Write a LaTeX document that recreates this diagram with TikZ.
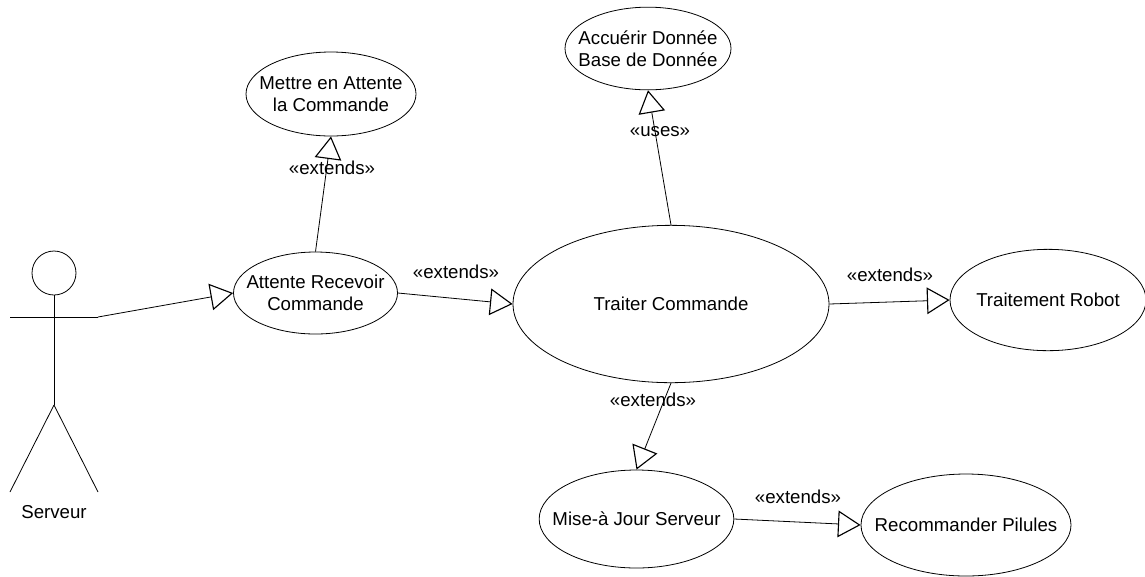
\documentclass[tikz,border=0pt]{standalone}
\usepackage{fontspec}
\setmainfont{Liberation Sans}
\usetikzlibrary{shapes.geometric,arrows.meta}
\tikzset{
    usecase/.style={draw,ellipse,inner sep=0pt},
    casetext/.style={align=center,inner sep=0pt,font=\fontsize{14}{16.5}\selectfont},
    stereo/.style={inner sep=0pt,font=\fontsize{14}{16}\selectfont},
    assoc/.style={-{Triangle[open,fill=white,length=17pt,width=20pt,line width=0.85pt]},line width=0.6pt},
}
\begin{document}
\begin{tikzpicture}[x=0.75pt,y=-0.75pt,line width=0.6pt]
            \useasboundingbox (0,0) rectangle (1145,576);
            \node[usecase,minimum width=127.5pt,minimum height=63pt,label={[casetext]center:Mettre en Attente\\la Commande}] (mettre) at (331,94) {};
            \node[usecase,minimum width=123pt,minimum height=61.5pt,label={[casetext]center:Attente Recevoir\\Commande}] (attente) at (315.5,293) {};
            \node[usecase,minimum width=124.5pt,minimum height=62pt,label={[casetext]center:Accuérir Donnée\\Base de Donnée}] (accuerir) at (648,48.5) {};
            \node[usecase,minimum width=237pt,minimum height=118pt,label={[casetext]center:Traiter Commande}] (traiter) at (671,304) {};
            \node[usecase,minimum width=147pt,minimum height=76pt,label={[casetext]center:Traitement Robot}] (robot) at (1048,300) {};
            \node[usecase,minimum width=146pt,minimum height=73.5pt,label={[casetext]center:Mise-à Jour Serveur}] (miseajour) at (636.5,519) {};
            \node[usecase,minimum width=157.5pt,minimum height=76.5pt,label={[casetext]center:Recommander Pilules}] (recommander) at (966,525) {};
            % actor
            \node[draw,circle,inner sep=0pt,minimum size=33pt] (tete) at (54,273) {};
            \coordinate (main) at (98,317);
            \coordinate (hanche) at (54,405);
            \draw (tete.south) -- (hanche);
            \draw (10,317) -- (main);
            \draw (hanche) -- (10,492);
            \draw (hanche) -- (98,492);
            \node[stereo] (serveur) at (54,512) {Serveur};
            % links
            \draw[assoc] (main) -- (attente.west);
            \draw[assoc] (attente.north) -- (mettre.south);
            \draw[assoc] (attente.east) -- (traiter.west);
            \draw[assoc] (traiter.north) -- (accuerir.south);
            \draw[assoc] (traiter.east) -- (robot.west);
            \draw[assoc] (traiter.south) -- (miseajour.north);
            \draw[assoc] (miseajour.east) -- (recommander.west);
            \node[stereo] (ext1) at (332,168) {«extends»};
            \node[stereo] (ext2) at (456,272) {«extends»};
            \node[stereo] (ext3) at (890,275) {«extends»};
            \node[stereo] (ext4) at (653,400) {«extends»};
            \node[stereo] (ext5) at (798,497) {«extends»};
            \node[stereo] (uses) at (660,132) {«uses»};
        \end{tikzpicture}
\end{document}
